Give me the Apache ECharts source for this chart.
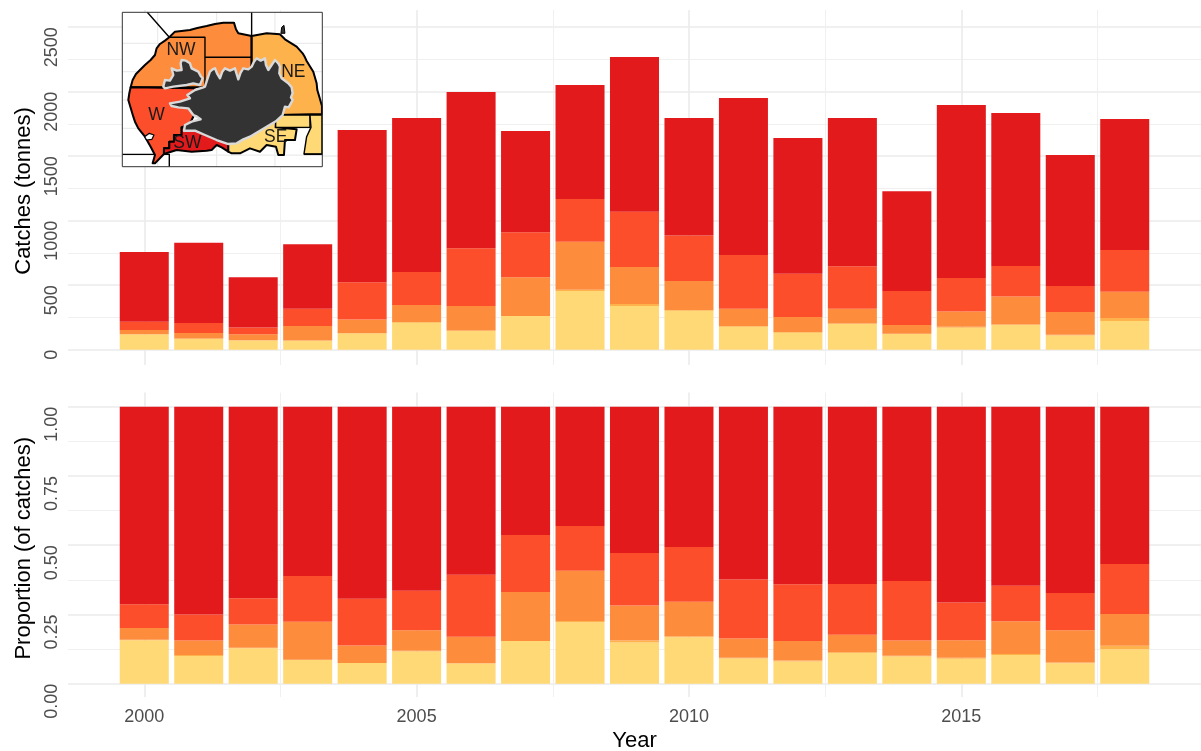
<!DOCTYPE html>
<html>
<head>
<meta charset="utf-8">
<title>Catches by region</title>
<script src="https://cdn.jsdelivr.net/npm/echarts@6/dist/echarts.min.js"></script>
<style>
  html, body { margin: 0; padding: 0; background: #fff; }
  #chart { width: 1201px; height: 751px; }
</style>
</head>
<body>
<div id="chart"></div>
<script>
  // catches in tonnes per region
  const years = [2000, 2001, 2002, 2003, 2004, 2005, 2006, 2007, 2008, 2009, 2010, 2011, 2012, 2013, 2014, 2015, 2016, 2017, 2018];
  const catchSE = [119, 83, 72, 70, 127, 209, 145, 261, 455, 338, 302, 178, 132, 199, 121, 171, 191, 111, 222];
  const catchNE = [1, 3, 1, 1, 1, 5, 3, 1, 10, 16, 5, 5, 5, 5, 3, 7, 5, 5, 23];
  const catchNW = [32, 43, 47, 112, 107, 132, 190, 299, 372, 287, 225, 135, 116, 114, 67, 119, 217, 176, 205];
  const catchW = [65, 78, 53, 135, 287, 256, 448, 349, 331, 429, 354, 416, 336, 328, 264, 259, 236, 202, 323];
  const catchSW = [540, 622, 388, 499, 1181, 1194, 1212, 785, 884, 1199, 910, 1217, 1052, 1150, 773, 1341, 1186, 1016, 1015];

  const regions = ['SE', 'NE', 'NW', 'W', 'SW'];
  const regionCatches = [catchSE, catchNE, catchNW, catchW, catchSW];
  const regionColors = ['#FED976', '#FEB24C', '#FD8D3C', '#FC4E2A', '#E31A1C'];

  const yearTicks = [2000, 2005, 2010, 2015];
  const yearMinorTicks = [2002.5, 2007.5, 2012.5, 2017.5];
  const catchTicks = [0, 500, 1000, 1500, 2000, 2500];
  const catchMinorTicks = [250, 750, 1250, 1750, 2250];
  const propTicks = [0, 0.25, 0.5, 0.75, 1];
  const propMinorTicks = [0.125, 0.375, 0.625, 0.875];

  // inset map outlines, in units of the inset's own axes
  const mapGridX = [143, 320, 495];
  const mapGridY = [130, 215, 300, 385, 465];
  const areaNW = [[178, 112], [195, 95], [240, 90], [262, 84], [290, 78], [315, 72], [340, 68], [372, 68], [378, 88], [385, 100], [425, 108], [425, 262], [62, 262], [68, 240], [78, 222], [105, 195], [122, 180], [135, 165], [140, 145], [150, 132], [165, 122]];
  const areaNE = [[425, 108], [470, 100], [510, 103], [525, 118], [560, 140], [578, 160], [585, 172], [590, 183], [610, 215], [620, 250], [622, 270], [628, 290], [636, 318], [636, 342], [500, 345], [425, 300]];
  const areaW = [[62, 262], [255, 265], [240, 295], [250, 350], [240, 370], [215, 382], [215, 405], [192, 405], [192, 425], [178, 425], [178, 445], [162, 445], [162, 462], [135, 490], [128, 490], [135, 465], [122, 440], [105, 410], [85, 385], [75, 365], [70, 350], [55, 300], [58, 280]];
  const areaSW = [[215, 382], [260, 385], [355, 430], [355, 455], [335, 442], [320, 435], [305, 450], [290, 452], [245, 455], [200, 450], [162, 462], [162, 445], [178, 445], [178, 425], [192, 425], [192, 405], [215, 405]];
  const areaSE = [[355, 430], [500, 345], [497, 382], [560, 388], [555, 420], [525, 420], [522, 465], [505, 465], [498, 440], [470, 435], [450, 455], [420, 445], [390, 460], [365, 460], [355, 455]];
  const areaSEbox = [[497, 345], [600, 345], [600, 382], [497, 382]];
  const areaSEeast = [[600, 345], [636, 345], [636, 462], [582, 462], [590, 410], [603, 382]];
  const landMain = [[285, 260], [292, 238], [300, 215], [308, 208], [315, 205], [322, 222], [330, 235], [337, 215], [345, 205], [360, 212], [375, 205], [380, 222], [385, 238], [392, 218], [400, 205], [415, 208], [425, 200], [432, 185], [440, 175], [452, 182], [465, 175], [468, 195], [475, 210], [485, 195], [495, 180], [505, 190], [510, 200], [508, 220], [515, 235], [535, 250], [545, 262], [548, 280], [543, 292], [548, 300], [536, 322], [525, 320], [518, 345], [500, 362], [470, 380], [445, 395], [420, 410], [400, 418], [380, 430], [355, 432], [320, 420], [285, 405], [255, 392], [222, 392], [225, 375], [245, 365], [272, 358], [258, 348], [250, 345], [235, 325], [205, 322], [185, 318], [180, 310], [210, 305], [240, 295], [232, 285], [255, 270], [280, 262]];
  const landWest = [[160, 260], [165, 240], [180, 242], [190, 225], [185, 205], [200, 212], [215, 210], [212, 190], [215, 180], [228, 182], [240, 190], [245, 205], [265, 215], [272, 228], [278, 235], [270, 255], [250, 250], [230, 255], [190, 260], [165, 265]];
  const islandW = [[104, 410], [118, 400], [132, 405], [126, 418], [110, 420]];
  const islandN = [[513, 100], [515, 82], [522, 76], [525, 100]];
  const boundaries = [
    [[112, 37], [178, 112], [285, 112], [285, 262]],
    [[285, 172], [425, 172]],
    [[425, 37], [425, 200]],
    [[37, 463], [135, 463]],
    [[160, 463], [178, 463], [178, 500]],
    [[582, 463], [637, 463]]
  ];
  const mapLabels = [['NW', 213, 150], ['NE', 550, 218], ['W', 140, 345], ['SE', 497, 410], ['SW', 232, 428]];

  const totals = years.map((y, i) => regionCatches.reduce((sum, r) => sum + r[i], 0));

  function insetShapes() {
    const shapes = [];
    const poly = (points, fill, stroke, lineWidth) => shapes.push({ type: 'polygon', points, fill, stroke, lineWidth });
    const line = (points, stroke, lineWidth) => shapes.push({ type: 'polyline', points, stroke, lineWidth });

    poly([[37, 37], [637, 37], [637, 500], [37, 500]], '#fff', null, 0);
    mapGridX.forEach(x => line([[x, 37], [x, 500]], '#EBEBEB', 1.2));
    mapGridY.forEach(y => line([[37, y], [637, y]], '#EBEBEB', 1.2));
    poly(areaNW, regionColors[2], '#000', 2);
    poly(areaNE, regionColors[1], '#000', 2);
    poly(areaW, regionColors[3], '#000', 2);
    poly(areaSW, regionColors[4], '#000', 2);
    poly(areaSE, regionColors[0], '#000', 2);
    poly(areaSEbox, regionColors[0], '#000', 1.4);
    poly(areaSEeast, regionColors[0], '#000', 1.4);
    boundaries.forEach(b => line(b, '#000', 1.4));
    poly(islandW, '#fff', '#000', 1.2);
    poly(islandN, '#333', '#000', 1);
    poly(landMain, '#333', '#D9D9D9', 2.4);
    poly(landWest, '#333', '#D9D9D9', 2.4);
    poly([[37, 37], [637, 37], [637, 500], [37, 500]], 'transparent', '#333', 1);
    mapLabels.forEach(l => shapes.push({ type: 'text', text: l[0], x: l[1], y: l[2] }));
    return shapes;
  }

  const shapes = insetShapes();

  function renderShape(params, api) {
    const s = shapes[params.dataIndex];
    if (s.type === 'text') {
      const p = api.coord([s.x, s.y]);
      return {
        type: 'text',
        x: p[0],
        y: p[1],
        style: { text: s.text, fill: '#1a1a1a', font: '17.5px "Liberation Sans"', textAlign: 'center', textVerticalAlign: 'middle' }
      };
    }
    return {
      type: s.type,
      shape: { points: s.points.map(p => api.coord(p)) },
      style: { fill: s.type === 'polygon' ? s.fill : 'none', stroke: s.stroke, lineWidth: s.lineWidth, lineJoin: 'round' }
    };
  }

  // one stacked bar piece: year, lower edge, upper edge
  function renderBar(params, api) {
    const year = api.value(0);
    const halfWidth = 0.45;
    const low = api.coord([year - halfWidth, api.value(1)]);
    const high = api.coord([year + halfWidth, api.value(2)]);
    return {
      type: 'rect',
      shape: { x: low[0], y: high[1], width: high[0] - low[0], height: low[1] - high[1] },
      style: { fill: api.visual('color') }
    };
  }

  const labelStyle = { color: '#4D4D4D', fontSize: 18, fontFamily: 'Liberation Sans' };
  const titleStyle = { color: '#000', fontSize: 22, fontFamily: 'Liberation Sans' };

  function xAxes(gridIndex, showLabels) {
    return [
      {
        type: 'value', gridIndex, min: 1998.6, max: 2019.4, position: 'bottom',
        name: showLabels ? 'Year' : '', nameLocation: 'middle', nameGap: 33, nameTextStyle: titleStyle,
        axisLine: { show: false },
        axisTick: { show: false, customValues: yearTicks },
        axisLabel: { show: showLabels, customValues: yearTicks, formatter: v => String(v), margin: 11, ...labelStyle },
        splitLine: { show: true, lineStyle: { color: '#EBEBEB', width: 1.6 } }
      },
      {
        type: 'value', gridIndex, min: 1998.6, max: 2019.4, position: 'bottom',
        axisLine: { show: false },
        axisTick: { show: false, customValues: yearMinorTicks },
        axisLabel: { show: false },
        splitLine: { show: true, lineStyle: { color: '#F0F0F0', width: 1 } }
      }
    ];
  }

  function yAxes(gridIndex, min, max, ticks, minorTicks, name, digits) {
    return [
      {
        type: 'value', gridIndex, min, max,
        name, nameLocation: 'middle', nameGap: 32,
        nameTextStyle: { ...titleStyle, padding: [0, 7, 0, 0] },
        axisLine: { show: false },
        axisTick: { show: false, customValues: ticks },
        axisLabel: {
          customValues: ticks, rotate: 90, align: 'right', verticalAlign: 'middle', margin: 16,
          formatter: v => v.toFixed(digits), ...labelStyle
        },
        splitLine: { show: true, lineStyle: { color: '#EBEBEB', width: 1.6 } }
      },
      {
        type: 'value', gridIndex, min, max,
        axisLine: { show: false },
        axisTick: { show: false, customValues: minorTicks },
        axisLabel: { show: false },
        splitLine: { show: true, lineStyle: { color: '#F0F0F0', width: 1 } }
      }
    ];
  }

  // stacking is summed here so the bars can sit on a plain value axis
  function barSeries(xIndex, yIndex, valueOf) {
    const running = years.map(() => 0);
    return regions.map((name, r) => ({
      name,
      type: 'custom',
      coordinateSystem: 'cartesian2d',
      xAxisIndex: xIndex,
      yAxisIndex: yIndex,
      z: 3,
      silent: true,
      itemStyle: { color: regionColors[r] },
      encode: { x: 0, y: [1, 2] },
      renderItem: renderBar,
      data: years.map((y, i) => {
        const low = running[i];
        running[i] = low + valueOf(r, i);
        return [y, low, running[i]];
      })
    }));
  }

  const chart = echarts.init(document.getElementById('chart'));
  chart.setOption({
    animation: false,
    backgroundColor: '#fff',
    grid: [
      { left: 68, width: 1133, top: 10, height: 355, outerBoundsMode: 'none' },
      { left: 68, width: 1133, top: 392.6, height: 304.4, outerBoundsMode: 'none' },
      { left: 122.3, width: 200, top: 12.3, height: 154.4, outerBoundsMode: 'none' }
    ],
    xAxis: [
      ...xAxes(0, false),
      ...xAxes(1, true),
      { type: 'value', gridIndex: 2, min: 37, max: 637, show: false }
    ],
    yAxis: [
      ...yAxes(0, -118.6, 2633, catchTicks, catchMinorTicks, 'Catches (tonnes)', 0),
      ...yAxes(1, -0.048, 1.051, propTicks, propMinorTicks, 'Proportion (of catches)', 2),
      { type: 'value', gridIndex: 2, min: 37, max: 500, inverse: true, show: false }
    ],
    series: [
      ...barSeries(0, 0, (r, i) => regionCatches[r][i]),
      ...barSeries(2, 2, (r, i) => regionCatches[r][i] / totals[i]),
      {
        type: 'custom',
        coordinateSystem: 'cartesian2d',
        xAxisIndex: 4,
        yAxisIndex: 4,
        z: 10,
        silent: true,
        renderItem: renderShape,
        data: shapes.map((s, i) => [i])
      }
    ]
  });
</script>
</body>
</html>
